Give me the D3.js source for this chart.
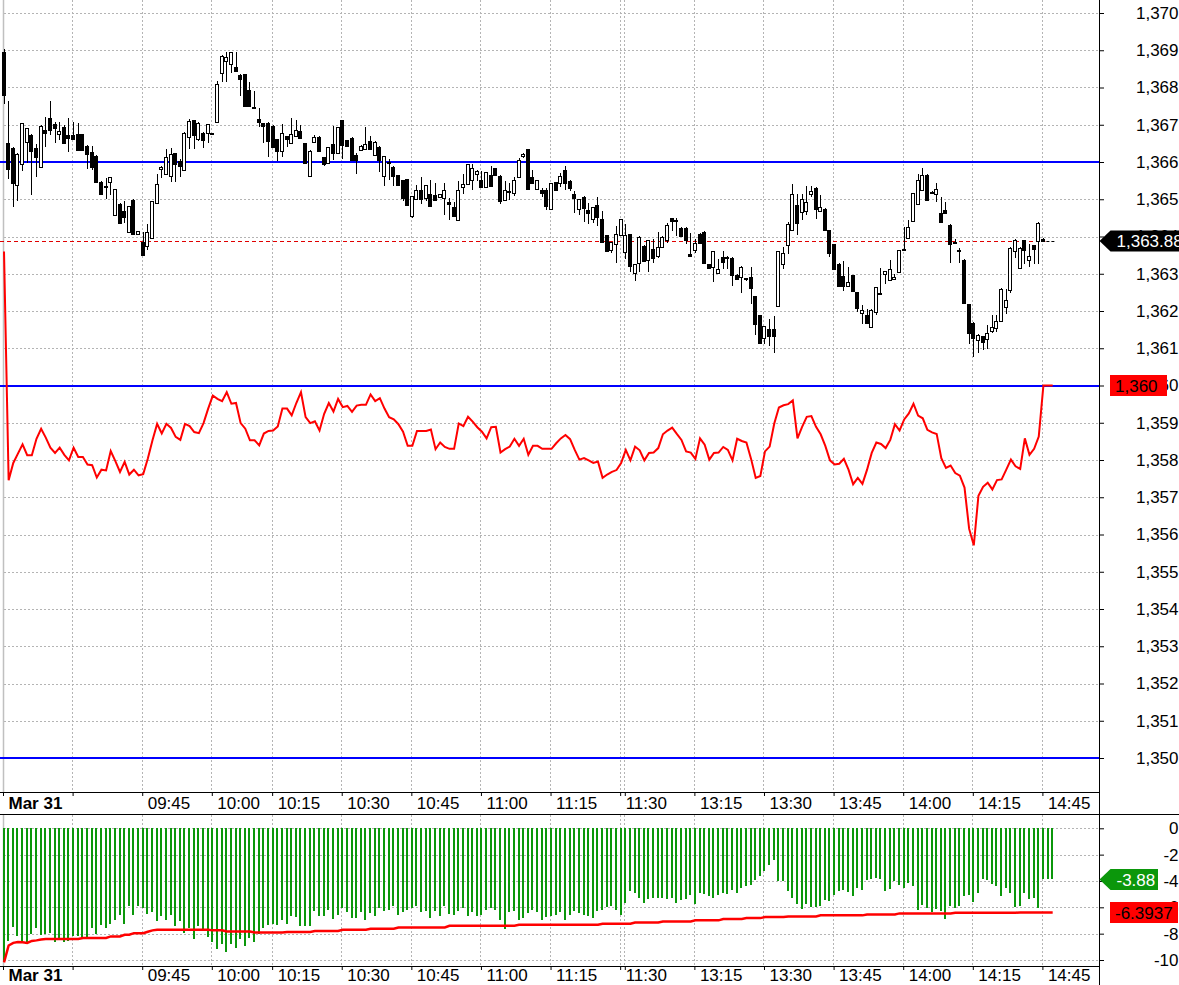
<!DOCTYPE html>
<html>
<head>
<meta charset="utf-8">
<script src="https://cdn.jsdelivr.net/npm/d3@7"></script>
<style>
  body { margin: 0; background: #fff; }
  svg { display: block; }
</style>
</head>
<body>
<div id="plot"></div>
<script>
// Width and height
const w = 1179;
const h = 985;
const axisX = 1099.5;
const mainBottom = 792.5;
const lowTop = 814.5;
const lowBottom = 966.5;
const font = "Liberation Sans, Arial, sans-serif";

// time axis: bar index of each tick and its label
const tickBars = [0, 15, 30, 45, 58, 73, 88, 103, 118, 133, 134, 149, 164, 179, 194, 209, 224];
const tickLabels = ["Mar 31", "", "09:45", "10:00", "10:15", "10:30", "10:45", "11:00", "11:15",
  "11:30", "", "13:15", "13:30", "13:45", "14:00", "14:15", "14:45"];

const priceTicks = [1350, 1351, 1352, 1353, 1354, 1355, 1356, 1357, 1358, 1359, 1360,
  1361, 1362, 1363, 1364, 1365, 1366, 1367, 1368, 1369, 1370];
const lowTicks = [0, -2, -4, -6, -8, -10];

// horizontal blue levels
const levels = [1366, 1360, 1350];
const lastPrice = 1363.88;
const lineTag = 1360;
const histTag = -3.88;
const avgTag = -6.3937;

// candles (one per bar)
const opens = [
1368.95,1366.50,1366.37,1365.37,1365.95,1366.53,1366.72,1366.37,1365.87,1366.86,
1367.17,1367.02,1366.77,1366.93,1366.72,1366.72,1366.74,1366.74,1366.44,1366.28,
1366.16,1365.47,1365.36,1365.47,1364.56,1364.87,1364.69,1364.13,1364.98,1364.06,
1363.86,1363.73,1363.94,1364.89,1365.80,1365.67,1365.61,1366.23,1366.03,1365.78,
1366.67,1367.13,1366.62,1366.79,1366.77,1366.77,1367.07,1368.40,1368.72,1368.62,
1368.55,1368.34,1368.36,1367.93,1367.47,1367.15,1367.05,1367.06,1366.97,1366.61,
1366.30,1366.70,1366.50,1366.68,1366.83,1366.50,1365.62,1366.52,1366.68,1366.13,
1365.96,1366.47,1366.23,1367.13,1366.59,1366.65,1366.19,1366.34,1366.34,1366.56,
1366.21,1366.41,1365.62,1365.99,1365.87,1365.65,1365.52,1365.54,1364.54,1365.00,
1365.25,1365.03,1365.14,1365.12,1365.05,1365.03,1364.92,1364.80,1364.45,1365.33,
1365.41,1365.51,1365.70,1365.52,1365.33,1365.66,1365.84,1365.63,1364.99,1365.21,
1365.17,1365.61,1366.15,1366.35,1365.60,1365.27,1365.25,1365.25,1364.74,1365.46,
1365.43,1365.79,1365.50,1365.15,1364.74,1365.07,1364.71,1364.46,1364.84,1364.48,
1364.03,1363.63,1363.79,1364.04,1363.57,1364.06,1363.00,1363.30,1363.75,1363.37,
1363.66,1363.48,1363.73,1363.91,1364.49,1364.45,1364.24,1364.24,1363.52,1363.64,
1364.08,1364.13,1363.26,1363.19,1363.03,1363.46,1363.44,1363.43,1362.97,1362.92,
1362.88,1362.90,1362.39,1361.89,1361.29,1361.53,1361.53,1362.12,1363.27,1363.78,
1364.18,1364.85,1364.66,1364.68,1365.12,1365.31,1364.68,1364.75,1364.17,1363.79,
1363.27,1362.93,1362.67,1362.96,1362.51,1361.95,1361.88,1361.59,1361.97,1362.47,
1362.98,1362.84,1362.86,1363.05,1363.66,1363.97,1364.43,1364.88,1365.24,1365.66,
1365.20,1365.15,1364.63,1364.70,1364.32,1363.86,1363.64,1363.38,1362.18,1361.69,
1361.23,1361.32,1361.26,1361.46,1361.53,1361.75,1362.11,1362.57,1363.61,1363.16,
1363.90,1363.36,1363.76,1363.88,1363.94];
const highs = [
1369.03,1367.64,1366.40,1366.25,1367.04,1366.92,1366.75,1366.48,1367.00,1367.22,
1367.64,1367.08,1367.08,1366.99,1367.17,1367.08,1367.04,1366.76,1366.46,1366.44,
1366.18,1365.49,1365.56,1365.61,1365.27,1364.90,1364.94,1364.83,1365.00,1364.16,
1364.13,1364.34,1364.96,1365.68,1365.90,1366.35,1366.37,1366.25,1366.08,1366.80,
1367.15,1367.14,1367.07,1366.80,1367.03,1366.78,1368.17,1368.86,1368.94,1368.95,
1368.94,1368.35,1368.37,1368.16,1367.91,1367.44,1367.06,1367.07,1366.98,1366.62,
1367.02,1366.71,1367.17,1367.14,1366.99,1366.51,1366.31,1366.72,1366.69,1366.14,
1366.41,1366.97,1366.94,1367.14,1366.60,1366.66,1366.23,1366.45,1366.95,1366.70,
1366.56,1366.42,1366.16,1366.07,1365.88,1365.66,1365.53,1365.55,1365.08,1365.39,
1365.60,1365.39,1365.52,1365.43,1365.15,1365.43,1365.03,1364.92,1365.50,1365.68,
1365.95,1365.94,1365.79,1365.75,1365.74,1365.90,1365.85,1365.64,1365.48,1365.43,
1365.60,1366.11,1366.24,1366.36,1365.79,1365.53,1365.30,1365.30,1365.44,1365.47,
1365.70,1365.90,1365.51,1365.21,1365.02,1365.08,1364.91,1364.79,1365.05,1364.69,
1364.04,1363.85,1364.28,1364.47,1364.33,1364.07,1363.26,1364.01,1363.76,1363.91,
1363.93,1364.12,1364.01,1364.37,1364.50,1364.50,1364.25,1364.25,1364.10,1363.94,
1364.09,1364.14,1363.27,1363.62,1363.39,1363.61,1363.48,1363.44,1362.98,1363.20,
1362.89,1363.17,1362.40,1361.90,1361.61,1361.78,1361.87,1363.61,1363.72,1364.39,
1365.42,1365.15,1365.15,1365.35,1365.35,1365.32,1365.11,1364.76,1364.18,1363.80,
1363.28,1363.33,1363.18,1362.97,1362.52,1362.15,1362.06,1362.05,1362.65,1363.16,
1363.08,1363.36,1363.00,1363.64,1364.26,1364.43,1365.18,1365.69,1365.85,1365.67,
1365.21,1365.44,1365.06,1364.93,1364.33,1363.94,1363.68,1363.39,1362.19,1361.70,
1361.37,1361.33,1361.62,1361.88,1361.88,1362.61,1362.60,1363.71,1363.92,1363.71,
1363.91,1363.81,1363.77,1364.38,1363.95];
const lows = [
1367.56,1365.54,1364.80,1364.94,1365.77,1365.96,1365.11,1365.61,1365.87,1366.41,
1366.72,1366.50,1366.59,1366.48,1366.28,1366.60,1366.30,1366.30,1365.80,1365.79,
1365.45,1365.14,1365.02,1365.11,1364.54,1364.35,1364.35,1364.12,1364.06,1364.05,
1363.50,1363.64,1363.92,1364.87,1365.58,1365.65,1365.47,1365.47,1365.61,1365.77,
1366.36,1366.35,1366.57,1366.37,1366.52,1366.74,1367.05,1368.16,1368.16,1368.38,
1368.44,1367.78,1367.48,1367.48,1367.43,1366.95,1366.50,1366.14,1366.40,1366.04,
1366.14,1366.41,1366.49,1366.67,1366.62,1365.95,1365.61,1366.50,1366.29,1365.90,
1365.95,1366.05,1366.22,1366.07,1366.43,1366.06,1365.68,1366.33,1366.33,1366.34,
1366.20,1365.74,1365.36,1365.52,1365.36,1365.37,1364.94,1364.82,1364.50,1364.99,
1364.87,1364.94,1364.82,1364.94,1365.04,1364.57,1364.43,1364.54,1364.44,1365.15,
1365.40,1365.26,1365.48,1365.33,1365.32,1365.34,1365.65,1364.88,1364.98,1364.99,
1365.08,1365.60,1366.10,1365.26,1365.42,1365.25,1365.05,1364.70,1364.73,1365.23,
1365.34,1365.24,1365.21,1364.63,1364.58,1364.40,1364.33,1364.36,1364.28,1363.84,
1363.58,1363.57,1363.30,1364.03,1363.39,1363.05,1362.81,1363.05,1363.33,1363.05,
1363.28,1363.43,1363.72,1363.82,1364.15,1364.02,1364.01,1363.79,1363.45,1363.57,
1363.83,1363.29,1363.12,1362.79,1363.02,1363.12,1363.12,1362.67,1362.83,1362.48,
1362.80,1362.18,1361.36,1361.12,1361.11,1361.06,1360.88,1362.11,1363.14,1363.54,
1364.17,1364.03,1364.43,1364.57,1365.06,1364.48,1364.66,1364.17,1363.45,1363.10,
1362.66,1362.54,1362.66,1362.53,1361.97,1361.66,1361.65,1361.58,1361.88,1362.42,
1362.73,1362.82,1362.82,1363.04,1363.62,1363.96,1364.42,1364.87,1365.23,1364.98,
1365.14,1364.93,1364.38,1364.60,1363.29,1363.80,1363.29,1362.21,1361.12,1360.76,
1360.87,1360.94,1360.99,1361.41,1361.44,1361.74,1361.93,1362.47,1363.43,1363.14,
1363.27,1363.18,1363.25,1363.27,1363.87];
const closes = [
1367.80,1365.79,1365.42,1366.21,1367.04,1366.90,1366.28,1366.12,1366.97,1366.79,
1366.86,1366.90,1366.84,1366.50,1366.64,1366.61,1366.32,1366.32,1366.23,1365.89,
1365.47,1365.16,1365.32,1365.61,1365.27,1364.37,1364.53,1364.82,1364.08,1364.15,
1363.52,1364.11,1364.94,1365.41,1365.86,1366.13,1366.21,1365.94,1365.90,1366.77,
1367.10,1366.74,1367.06,1366.59,1367.02,1366.75,1368.09,1368.85,1368.83,1368.94,
1368.45,1368.23,1367.49,1367.49,1367.44,1367.08,1366.98,1366.59,1366.41,1366.30,
1366.77,1366.61,1366.74,1366.85,1366.63,1365.96,1366.30,1366.66,1366.30,1365.95,
1366.40,1366.22,1366.93,1366.46,1366.44,1366.07,1366.05,1366.44,1366.47,1366.35,
1366.55,1366.07,1366.15,1365.96,1365.62,1365.38,1365.05,1364.83,1365.08,1365.25,
1365.00,1365.38,1364.83,1364.99,1365.14,1365.25,1364.87,1364.57,1365.25,1365.41,
1365.94,1365.84,1365.77,1365.34,1365.73,1365.37,1365.66,1364.97,1365.25,1365.19,
1365.52,1366.06,1366.21,1365.27,1365.43,1365.52,1365.17,1364.81,1365.43,1365.24,
1365.63,1365.43,1365.30,1365.03,1365.01,1364.78,1364.62,1364.78,1364.53,1363.85,
1363.59,1363.84,1364.06,1364.46,1364.03,1363.19,1363.25,1364.00,1363.34,1363.90,
1363.43,1363.73,1364.00,1364.30,1364.40,1364.43,1364.02,1363.93,1363.46,1363.82,
1363.84,1363.30,1363.14,1363.61,1363.14,1363.32,1363.42,1362.97,1362.85,1363.19,
1362.86,1362.60,1361.63,1361.13,1361.60,1361.33,1361.33,1363.60,1363.56,1364.34,
1365.15,1364.36,1365.02,1364.93,1365.21,1364.75,1364.79,1364.18,1363.56,1363.11,
1362.67,1362.67,1362.78,1362.54,1362.08,1362.02,1361.66,1362.04,1362.64,1362.43,
1363.07,1363.14,1362.91,1363.63,1363.64,1364.26,1365.17,1365.53,1365.64,1364.99,
1365.18,1365.28,1364.39,1364.61,1363.81,1363.84,1363.62,1362.22,1361.39,1361.30,
1361.36,1361.17,1361.42,1361.57,1361.72,1362.60,1362.29,1363.70,1363.91,1363.70,
1363.63,1363.48,1363.65,1364.37,1363.88];

// red indicator line in the price panel
const redLine = [
1363.60,1357.46,1357.92,1358.17,1358.42,1358.13,1358.13,1358.57,1358.84,1358.60,
1358.33,1358.19,1358.33,1358.14,1357.99,1358.33,1358.08,1358.08,1357.88,1357.86,
1357.53,1357.74,1357.72,1358.24,1357.97,1357.68,1357.95,1357.61,1357.74,1357.59,
1357.62,1358.04,1358.53,1358.97,1358.71,1358.97,1358.86,1358.62,1358.54,1358.97,
1358.91,1358.75,1358.72,1358.99,1359.38,1359.73,1359.64,1359.58,1359.82,1359.51,
1359.53,1358.99,1358.84,1358.53,1358.53,1358.39,1358.71,1358.78,1358.79,1358.90,
1359.38,1359.38,1359.20,1359.53,1359.82,1359.15,1358.99,1359.04,1358.79,1359.24,
1359.53,1359.30,1359.64,1359.42,1359.45,1359.29,1359.46,1359.48,1359.48,1359.76,
1359.58,1359.66,1359.38,1359.15,1359.09,1358.96,1358.76,1358.38,1358.38,1358.78,
1358.78,1358.78,1358.82,1358.29,1358.47,1358.35,1358.30,1358.30,1358.98,1358.91,
1359.16,1359.03,1358.88,1358.76,1358.58,1358.88,1358.89,1358.20,1358.29,1358.36,
1358.57,1358.38,1358.57,1358.14,1358.38,1358.38,1358.30,1358.30,1358.30,1358.45,
1358.58,1358.67,1358.56,1358.27,1358.01,1358.05,1357.99,1357.92,1357.96,1357.52,
1357.61,1357.68,1357.73,1357.92,1358.27,1357.99,1358.36,1358.26,1357.99,1358.19,
1358.20,1358.32,1358.69,1358.79,1358.87,1358.70,1358.54,1358.23,1358.20,1358.03,
1358.58,1358.41,1358.01,1358.19,1358.20,1358.35,1358.27,1357.99,1358.57,1358.51,
1358.47,1358.03,1357.52,1357.57,1358.23,1358.36,1358.98,1359.41,1359.47,1359.50,
1359.60,1358.58,1358.89,1359.16,1359.18,1358.89,1358.69,1358.38,1357.99,1357.88,
1357.90,1358.03,1357.74,1357.35,1357.52,1357.36,1357.74,1358.19,1358.47,1358.43,
1358.32,1358.54,1358.96,1358.79,1359.09,1359.25,1359.51,1359.19,1359.12,1358.81,
1358.74,1358.70,1358.05,1357.79,1357.85,1357.65,1357.58,1357.26,1356.15,1355.71,
1357.04,1357.28,1357.39,1357.21,1357.46,1357.48,1357.74,1358.01,1357.83,1357.76,
1358.58,1358.14,1358.30,1358.63,1360.00,1360.00,1360.00];

// lower panel: green histogram and red average line
const histValues = [
-10.15,-8.56,-7.48,-8.19,-8.69,-8.77,-8.06,-7.56,-8.11,-8.06,
-7.98,-8.64,-8.31,-8.64,-8.56,-8.19,-8.14,-8.24,-8.31,-7.56,
-8.06,-7.38,-7.56,-7.23,-6.93,-6.62,-7.23,-5.92,-6.62,-5.87,
-6.05,-6.47,-6.37,-7.05,-6.68,-6.93,-6.55,-7.43,-7.05,-7.98,
-7.56,-8.39,-7.43,-7.68,-8.24,-8.64,-9.14,-8.82,-9.40,-8.82,
-9.07,-8.44,-8.94,-8.31,-8.64,-8.06,-7.56,-7.38,-7.23,-7.38,
-6.93,-7.23,-6.68,-6.73,-7.43,-7.43,-7.43,-6.30,-6.68,-6.68,
-6.17,-6.88,-6.55,-6.05,-6.37,-6.80,-6.80,-6.37,-6.93,-6.42,
-6.68,-6.05,-6.30,-6.17,-5.92,-6.55,-6.37,-6.22,-6.05,-5.92,
-6.37,-6.30,-6.80,-6.30,-6.68,-5.92,-6.47,-6.62,-6.30,-6.05,
-6.68,-6.37,-6.68,-6.62,-6.22,-6.05,-6.17,-6.93,-7.68,-6.37,
-6.30,-6.98,-6.80,-6.42,-6.22,-6.37,-6.93,-6.73,-6.68,-6.62,
-6.37,-6.93,-6.55,-6.30,-6.42,
-6.55,-6.68,-6.80,-6.30,-6.17,-6.00,-5.92,-6.22,-6.55,-5.67,
-4.79,-4.91,-5.29,-5.67,-5.37,-5.29,-5.29,-5.29,-5.37,-5.29,
-5.67,-5.42,-5.37,-5.04,-5.72,-4.91,-4.96,-5.11,-5.29,-5.04,
-4.91,-4.96,-4.66,-4.91,-4.53,-4.36,-4.28,-3.90,-3.65,-3.27,
-2.77,-2.39,-4.03,-4.03,-4.79,-5.29,-5.72,-6.12,-5.72,-5.97,
-5.97,-5.87,-5.47,-5.54,-5.04,-4.79,-4.66,-4.86,-5.11,-4.53,
-4.66,-3.90,-3.85,-3.78,-3.85,-4.79,-4.61,-4.03,-4.28,-4.53,
-4.16,-4.41,-6.22,-5.79,-6.05,-6.37,-6.12,-6.30,-6.88,-5.87,
-6.05,-5.92,-5.16,-5.04,-5.62,-4.91,-3.85,-3.90,-4.21,-4.36,
-5.16,-4.53,-4.91,-5.97,-5.92,-4.91,-5.37,-5.29,-6.05,-3.88,
-3.88,-3.88];
const avgLine = [
-10.18,-8.90,-8.70,-8.64,-8.66,-8.70,-8.55,-8.51,-8.45,-8.41,
-8.41,-8.41,-8.41,-8.41,-8.41,-8.41,-8.41,-8.33,-8.33,-8.33,
-8.33,-8.33,-8.33,-8.21,-8.21,-8.21,-8.08,-8.08,-7.96,-7.96,
-7.96,-7.85,-7.75,-7.70,-7.70,-7.70,-7.70,-7.70,-7.70,-7.70,
-7.70,-7.70,-7.70,-7.70,-7.70,-7.75,-7.75,-7.75,-7.83,-7.83,
-7.83,-7.83,-7.83,-7.83,-7.91,-7.91,-7.91,-7.91,-7.91,-7.91,
-7.91,-7.87,-7.87,-7.87,-7.87,-7.87,-7.87,-7.80,-7.80,-7.80,
-7.80,-7.80,-7.80,-7.70,-7.70,-7.70,-7.70,-7.70,-7.70,-7.63,
-7.63,-7.63,-7.63,-7.63,-7.63,-7.53,-7.53,-7.53,-7.53,-7.53,
-7.53,-7.53,-7.53,-7.53,-7.53,-7.53,-7.40,-7.40,-7.40,-7.40,
-7.40,-7.40,-7.40,-7.40,-7.40,-7.40,-7.40,-7.40,-7.40,-7.40,
-7.40,-7.33,-7.33,-7.33,-7.33,-7.33,-7.33,-7.33,-7.33,-7.33,
-7.33,-7.33,-7.33,-7.33,-7.33,-7.33,-7.33,-7.33,-7.33,-7.25,
-7.25,-7.25,-7.25,-7.25,-7.25,-7.25,-7.15,-7.15,-7.15,-7.15,
-7.15,-7.15,-7.07,-7.07,-7.07,-7.07,-7.07,-7.07,-7.07,-6.99,
-6.99,-6.99,-6.99,-6.99,-6.99,-6.89,-6.89,-6.89,-6.89,-6.89,
-6.82,-6.82,-6.82,-6.82,-6.74,-6.74,-6.74,-6.74,-6.74,-6.69,
-6.69,-6.69,-6.69,-6.69,-6.69,-6.69,-6.61,-6.61,-6.61,-6.61,
-6.61,-6.61,-6.61,-6.61,-6.61,-6.61,-6.54,-6.54,-6.54,-6.54,
-6.54,-6.54,-6.54,-6.46,-6.46,-6.46,-6.46,-6.46,-6.46,-6.46,
-6.46,-6.46,-6.46,-6.46,-6.46,-6.41,-6.41,-6.41,-6.41,-6.41,
-6.41,-6.41,-6.41,-6.41,-6.41,-6.41,-6.41,-6.41,-6.41,-6.39,
-6.39,-6.39,-6.39,-6.39,-6.39,-6.39,-6.39];

// scales
const x = d3.scaleLinear().domain([0, 224]).range([4, 1043.4]);
const y = d3.scaleLinear().domain([1350, 1370]).range([758, 13]);
const yLow = d3.scaleLinear().domain([-10, 0]).range([960, 828.3]);
const px = v => Math.round(v) + 0.5;
const gx = d => Math.floor(x(d) - 1) + 0.5;
// plain hyphen minus, as in the original chart
const hyphen = f => v => f(v).replace("\u2212", "-");

// create SVG element
const svg = d3.select("div#plot")
  .append("svg")
    .attr("width", w)
    .attr("height", h)
    .style("font-family", font);

svg.append("rect")
  .attr("width", w)
  .attr("height", h)
  .attr("fill", "#ffffff");

// grid lines
const grid = svg.append("g")
  .attr("stroke", "#b4b4b4")
  .attr("stroke-dasharray", "2,2")
  .attr("shape-rendering", "crispEdges");

grid.selectAll("line.hmain")
  .data(priceTicks)
  .join("line")
    .attr("class", "hmain")
    .attr("x1", 4).attr("x2", axisX)
    .attr("y1", d => px(y(d))).attr("y2", d => px(y(d)));

grid.selectAll("line.hlow")
  .data(lowTicks)
  .join("line")
    .attr("class", "hlow")
    .attr("x1", 4).attr("x2", axisX)
    .attr("y1", d => px(yLow(d))).attr("y2", d => px(yLow(d)));

[[0, mainBottom], [lowTop, lowBottom]].forEach(([y0, y1]) => {
  grid.append("g")
    .selectAll("line")
    .data(tickBars.slice(1))
    .join("line")
      .attr("x1", gx).attr("x2", gx)
      .attr("y1", y0).attr("y2", y1);
  // session start line
  svg.append("line")
    .attr("x1", gx(0)).attr("x2", gx(0))
    .attr("y1", y0).attr("y2", y1)
    .attr("stroke", "#c0c0c0")
    .attr("stroke-width", 1.5);
});

// blue levels
svg.append("g")
  .selectAll("line")
  .data(levels)
  .join("line")
    .attr("x1", 0).attr("x2", axisX)
    .attr("y1", d => Math.round(y(d))).attr("y2", d => Math.round(y(d)))
    .attr("stroke", "#0000ff")
    .attr("stroke-width", 2);

// last price dashed line
svg.append("line")
  .attr("x1", 0).attr("x2", x(224) + 2)
  .attr("y1", px(y(lastPrice))).attr("y2", px(y(lastPrice)))
  .attr("stroke", "#e00000")
  .attr("stroke-dasharray", "4,3");
svg.append("line")
  .attr("x1", x(224) + 3).attr("x2", x(224) + 12)
  .attr("y1", px(y(lastPrice))).attr("y2", px(y(lastPrice)))
  .attr("stroke", "#000")
  .attr("stroke-dasharray", "3,2");

// red indicator line
svg.append("path")
  .datum(redLine)
  .attr("fill", "none")
  .attr("stroke", "#ff0000")
  .attr("stroke-width", 2)
  .attr("d", d3.line().x((d, i) => x(i)).y(d => y(d)));

// candles
const candles = opens.map((o, i) => ({i: i, o: o, h: highs[i], l: lows[i], c: closes[i]}));
const cg = svg.append("g").attr("shape-rendering", "crispEdges");

cg.selectAll("line")
  .data(candles)
  .join("line")
    .attr("x1", d => Math.floor(x(d.i)) + 0.5)
    .attr("x2", d => Math.floor(x(d.i)) + 0.5)
    .attr("y1", d => y(d.h))
    .attr("y2", d => y(d.l))
    .attr("stroke", "#000");

cg.selectAll("rect")
  .data(candles)
  .join("rect")
    .attr("x", d => Math.floor(x(d.i)) - 1.5)
    .attr("width", 3)
    .attr("y", d => px(y(Math.max(d.o, d.c))))
    .attr("height", d => Math.max(1, Math.round(y(Math.min(d.o, d.c)) - y(Math.max(d.o, d.c)))))
    .attr("fill", d => d.c >= d.o ? "#ffffff" : "#000000")
    .attr("stroke", "#000");

// lower panel histogram
svg.append("g")
  .attr("shape-rendering", "crispEdges")
  .selectAll("rect")
  .data(histValues)
  .join("rect")
    .attr("x", (d, i) => Math.floor(x(i)) - 1)
    .attr("width", 2)
    .attr("y", yLow(0))
    .attr("height", d => yLow(d) - yLow(0))
    .attr("fill", "#0b970b");

// lower panel average line
svg.append("path")
  .datum(avgLine)
  .attr("fill", "none")
  .attr("stroke", "#ff0000")
  .attr("stroke-width", 2.5)
  .attr("d", d3.line().x((d, i) => x(i)).y(d => yLow(d)));

// frame lines
const frame = svg.append("g").attr("stroke", "#000").attr("shape-rendering", "crispEdges");
frame.append("line").attr("x1", axisX).attr("x2", axisX).attr("y1", 0).attr("y2", h);
frame.append("line").attr("x1", 0).attr("x2", axisX).attr("y1", mainBottom).attr("y2", mainBottom);
frame.append("line").attr("x1", 0).attr("x2", w).attr("y1", lowTop).attr("y2", lowTop);
frame.append("line").attr("x1", 0).attr("x2", axisX).attr("y1", lowBottom).attr("y2", lowBottom);

// time axes
function timeAxis(yPos, textY) {
  const g = svg.append("g")
    .attr("transform", `translate(-1, ${yPos - 0.5})`)
    .call(d3.axisBottom(x).tickValues(tickBars).tickSize(4).tickFormat((d, i) => tickLabels[i]));
  g.select(".domain").remove();
  g.attr("font-family", font).attr("font-size", 17);
  g.selectAll("text")
    .attr("x", 5)
    .attr("y", textY)
    .attr("dy", "0.71em")
    .attr("text-anchor", "start")
    .attr("fill", "#000")
    .attr("font-weight", (d, i) => i === 0 ? "bold" : "normal");
}
timeAxis(mainBottom, 4.5);
timeAxis(lowBottom, 3);

// price axis
const yAxis = svg.append("g")
  .attr("transform", `translate(${axisX - 0.5}, 0)`)
  .call(d3.axisRight(y).tickValues(priceTicks).tickSize(5).tickFormat(d3.format(",")));
yAxis.select(".domain").remove();
yAxis.attr("font-family", font).attr("font-size", 17);
yAxis.selectAll("text").attr("x", 79.5).attr("text-anchor", "end").attr("fill", "#000");

const lowAxis = svg.append("g")
  .attr("transform", `translate(${axisX - 0.5}, 0)`)
  .call(d3.axisRight(yLow).tickValues(lowTicks).tickSize(5).tickFormat(hyphen(d3.format("d"))));
lowAxis.select(".domain").remove();
lowAxis.attr("font-family", font).attr("font-size", 17);
lowAxis.selectAll("text").attr("x", 79.5).attr("text-anchor", "end").attr("fill", "#000");

// value tags on the right
function arrowTag(yv, right, fill, label) {
  svg.append("path")
    .attr("d", `M${axisX},${yv} L${axisX + 11},${yv - 10.5} L${right},${yv - 10.5} L${right},${yv + 10.5} L${axisX + 11},${yv + 10.5} Z`)
    .attr("fill", fill);
  svg.append("text")
    .attr("x", axisX + 17)
    .attr("y", yv)
    .attr("dy", "0.36em")
    .attr("font-size", 17)
    .attr("fill", "#fff")
    .text(label);
}
function boxTag(yv, right, label) {
  svg.append("rect")
    .attr("x", 1110).attr("y", yv - 10.5)
    .attr("width", right - 1110).attr("height", 21)
    .attr("fill", "#ff0000");
  svg.append("text")
    .attr("x", 1115)
    .attr("y", yv)
    .attr("dy", "0.36em")
    .attr("font-size", 17)
    .attr("fill", "#000")
    .text(label);
}
arrowTag(y(lastPrice), w, "#000000", d3.format(",.2f")(lastPrice));
boxTag(y(lineTag), 1167, d3.format(",")(lineTag));
arrowTag(yLow(histTag), 1158, "#0b970b", hyphen(d3.format(".2f"))(histTag));
boxTag(yLow(avgTag), 1178, hyphen(d3.format(".4f"))(avgTag));
</script>
</body>
</html>
